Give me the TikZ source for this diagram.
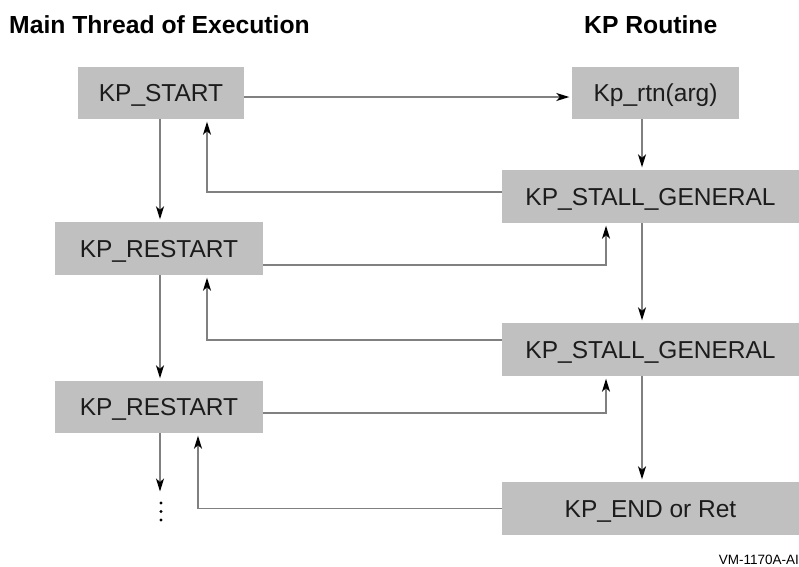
\documentclass[tikz,border=0pt]{standalone}
\usepackage{fontspec}
\setmainfont{Liberation Sans}
\usetikzlibrary{arrows.meta}
\definecolor{boxfill}{HTML}{C0C0C0}
\definecolor{linegray}{HTML}{808080}
\definecolor{txt}{HTML}{1C1C1C}
\begin{document}
\begin{tikzpicture}[x=1pt,y=-1pt,
  box/.style={fill=boxfill,draw=none,inner sep=0pt,text=txt,
    font=\fontsize{24.5}{26}\selectfont,text height=17.5pt,text depth=0pt},
  title/.style={font=\fontsize{24.7}{26}\bfseries\selectfont,anchor=base west,inner sep=0pt},
  arr/.style={draw=linegray,line width=1.2pt,
    -{Stealth[length=13pt,width=8pt,inset=3.5pt,black]},shorten >=2.5pt}]
\useasboundingbox (0,0) rectangle (799,566);
\node[title] (t1) at (9,33) {Main Thread of Execution};
\node[title] (t2) at (584,33) {KP Routine};

\node[box,minimum width=166pt,minimum height=52pt] (start) at (161,93) {KP\_START};
\node[box,minimum width=167pt,minimum height=52pt] (rtn) at (655.5,93) {Kp\_rtn(arg)};
\node[box,minimum width=297pt,minimum height=53pt] (st1) at (650.5,196.5) {KP\_STALL\_GENERAL};
\node[box,minimum width=208pt,minimum height=53pt] (r1) at (159,248.5) {KP\_RESTART};
\node[box,minimum width=297pt,minimum height=53pt] (st2) at (650.5,349.5) {KP\_STALL\_GENERAL};
\node[box,minimum width=208pt,minimum height=52pt] (r2) at (159,407) {KP\_RESTART};
\node[box,minimum width=297pt,minimum height=53pt] (end) at (650.5,508.5) {KP\_END or Ret};

\coordinate (dots) at (160,494);
\fill (161,503) circle (1.7pt) (161,511.5) circle (1.7pt) (161,520) circle (1.7pt);

% main thread downward
\draw[arr] ([xshift=-1pt]start.south) -- ([xshift=-1pt]start.south |- r1.north);
\draw[arr] ([xshift=1pt]r1.south) -- ([xshift=1pt]r1.south |- r2.north);
\draw[arr] ([xshift=1pt]r2.south) -- (dots);

% KP routine downward
\draw[arr] ([yshift=-4pt]start.east) -- ([yshift=-4pt]start.east -| rtn.west);
\draw[arr] ([xshift=-13.5pt]rtn.south) -- ([xshift=-13.5pt]rtn.south |- st1.north);
\draw[arr] ([xshift=-8.5pt]st1.south) -- ([xshift=-8.5pt]st1.south |- st2.north);
\draw[arr] ([xshift=-8.5pt]st2.south) -- ([xshift=-8.5pt]st2.south |- end.north);

% stalls back to main
\draw[arr] ([yshift=4.5pt]st1.west) -| ([xshift=46pt]start.south);
\draw[arr] ([yshift=9.5pt]st2.west) -| ([xshift=48pt]r1.south);
\draw[arr] (end.west) -| ([xshift=39pt]r2.south);

% restarts to stalls
\draw[arr] ([yshift=-16.5pt]r1.east) -| ([xshift=-44.5pt]st1.south);
\draw[arr] ([yshift=-6pt]r2.east) -| ([xshift=-44.5pt]st2.south);

\node[anchor=base east,inner sep=0pt,font=\fontsize{13.5}{14}\selectfont] (lbl) at (799,564) {VM-1170A-AI};
\end{tikzpicture}
\end{document}
